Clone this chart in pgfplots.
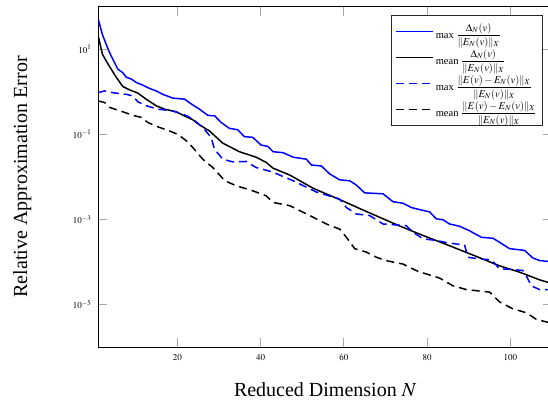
\documentclass[border=0pt]{standalone}
\usepackage{amsmath}
\usepackage{mathptmx}
\usepackage{fontspec}
\setmainfont{Liberation Serif}
\usepackage{pgfplots}
\pgfplotsset{compat=1.18}

\begin{document}
\begin{tikzpicture}
\begin{axis}[
  scale only axis,
  width=453.7pt, height=340.3pt,
  ymode=log,
  xmin=1, xmax=110,
  ymin=1e-6, ymax=1e2,
  xtick={20,40,60,80,100},
  ytick={1e-5,1e-3,1e-1,1e1},
  yminorticks=false,
  tick align=inside,
  major tick length=9pt,
  major tick style={gray!70, line width=1pt},
  axis line style={line width=1pt},
  tick label style={font=\fontsize{9}{10}\selectfont},
  xticklabel style={yshift=-4pt},
  yticklabel style={xshift=-3.5pt},
  xlabel={Reduced Dimension $N$},
  ylabel={Relative Approximation Error},
  label style={font=\fontsize{20}{24}\selectfont},
  xlabel style={at={(axis description cs:0.5,-0.146)}, anchor=base},
  ylabel style={at={(axis description cs:-0.157,0.5)}, anchor=base},
  legend style={at={(axis description cs:0.9795,0.9756)}, anchor=north east,
    draw=black!85, font=\fontsize{10.5}{12.5}\selectfont,
    row sep=5.5pt, inner xsep=4pt, inner ysep=6pt},
  legend cell align=left,
  legend image code/.code={\draw[#1] (0pt,0pt) -- (37pt,0pt);},
  every axis plot/.append style={line width=1.5pt},
]
% max of error estimator
\addplot[blue] coordinates {
 (1,50) (2,22) (2.9,13) (3.7,8.4) (4.5,5.8) (5.7,3.4) (6.9,2.8) (7.7,2.2)
 (8.9,2.0) (10.1,1.66) (11.7,1.43) (13.3,1.2) (14.9,1.05) (16.5,0.87)
 (18.9,0.71) (21.7,0.67) (23.7,0.49) (25.3,0.39) (27.3,0.28) (29,0.27)
 (30.5,0.19) (32.5,0.138) (34.5,0.128) (36.1,0.088) (38.1,0.085) (40.1,0.056)
 (41.7,0.052) (43,0.039) (45.4,0.037) (47.8,0.029) (51,0.026) (52.2,0.019)
 (54.6,0.018) (56.6,0.0117) (59,0.0085) (61.4,0.0081) (63,0.0064) (65,0.0042)
 (69.4,0.0040) (71.8,0.0026) (74.2,0.0024) (76.2,0.0019) (78.2,0.0017)
 (80.6,0.0015) (82.2,0.00103) (83.8,0.00098) (85.4,0.00078) (87.8,0.00069)
 (90.2,0.00054) (93,0.00038) (95.8,0.00036) (97.4,0.00029) (99.8,0.000205)
 (103.4,0.000187) (105.4,0.000124) (107,0.000108) (110,0.0001)
};
\addlegendentry{max $\displaystyle\frac{\Delta_N(v)}{\|E_N(v)\|_X}$}
% mean of error estimator
\addplot[black] coordinates {
 (1,20) (2,7.6) (2.9,5.3) (4.1,3.4) (5.3,2.2) (6.9,1.33) (8.5,1.11)
 (10.5,0.93) (12.5,0.67) (14.9,0.47) (16.9,0.39) (19.7,0.34) (21.7,0.27)
 (23.7,0.22) (25.3,0.167) (27.7,0.12) (30.9,0.062) (34.9,0.039) (38.9,0.029)
 (41.3,0.022) (43,0.016) (47,0.011) (52.6,0.0054) (59.8,0.0027) (63.8,0.0018)
 (68.6,0.00112) (73.4,0.0007) (78.2,0.00045) (85.4,0.00024) (91.8,0.000135)
 (97.4,0.000081) (102.2,0.0000575) (107,0.000038) (110,0.000031)
};
\addlegendentry{mean $\displaystyle\frac{\Delta_N(v)}{\|E_N(v)\|_X}$}
% max of true error
\addplot[blue, dash pattern=on 8pt off 5pt] coordinates {
 (1,0.95) (2.5,1.05) (4.5,0.95) (7.7,0.87) (9.3,0.80) (10.5,0.58) (12.5,0.47)
 (15.3,0.39) (18.5,0.36) (21.3,0.30) (23.7,0.23) (26.1,0.145) (28.1,0.085)
 (28.9,0.045) (30.9,0.026) (33.3,0.0225) (36.5,0.023) (38.9,0.0166)
 (42.9,0.013) (44.6,0.011) (47.8,0.0081) (53.4,0.0044) (59,0.003)
 (60.6,0.0019) (63,0.00134) (66.2,0.00123) (69.4,0.00078) (75,0.00071)
 (76.6,0.0005) (79,0.00035) (82.2,0.00032) (85,0.00028) (89,0.00025)
 (89.8,0.000129) (92.6,0.000117) (95.4,0.000113) (97.4,0.000069)
 (99.8,0.000067) (103,0.000063) (103.8,0.000048) (105,0.0000275)
 (107,0.0000224) (110,0.0000224)
};
\addlegendentry{max $\displaystyle\frac{\|E(v)-E_N(v)\|_X}{\|E_N(v)\|_X}$}
% mean of true error
\addplot[black, dash pattern=on 8pt off 5pt] coordinates {
 (1,0.61) (2.5,0.56) (3.7,0.43) (6.1,0.36) (9.3,0.28) (11.3,0.25) (12.9,0.19)
 (14.9,0.155) (18.1,0.12) (20.1,0.10) (22.1,0.071) (23.7,0.049) (26.1,0.026)
 (28.5,0.0166) (31.4,0.0081) (34.1,0.0062) (38.1,0.0047) (41.3,0.0036)
 (43,0.0025) (47,0.0021) (51.8,0.00123) (55.8,0.00078) (59,0.00059)
 (60.6,0.00038) (62.6,0.000205) (65.4,0.00017) (67.8,0.000129)
 (70.2,0.000107) (74.2,0.000089) (77.8,0.00006) (83,0.0000417)
 (86.2,0.0000275) (89.4,0.0000224) (95,0.0000195) (97.4,0.0000115)
 (100.6,0.0000079) (103.8,0.0000064) (106.2,0.0000045) (109,0.0000038)
 (110,0.0000036)
};
\addlegendentry{mean $\displaystyle\frac{\|E(v)-E_N(v)\|_X}{\|E_N(v)\|_X}$}
\end{axis}
% the reference is cut just left of the right spine
\pgfresetboundingbox
\path[use as bounding box]
  ([xshift=-98.3pt,yshift=-54pt]current axis.south west)
  rectangle ([xshift=-4pt,yshift=6.7pt]current axis.north east);
\end{tikzpicture}
\end{document}
